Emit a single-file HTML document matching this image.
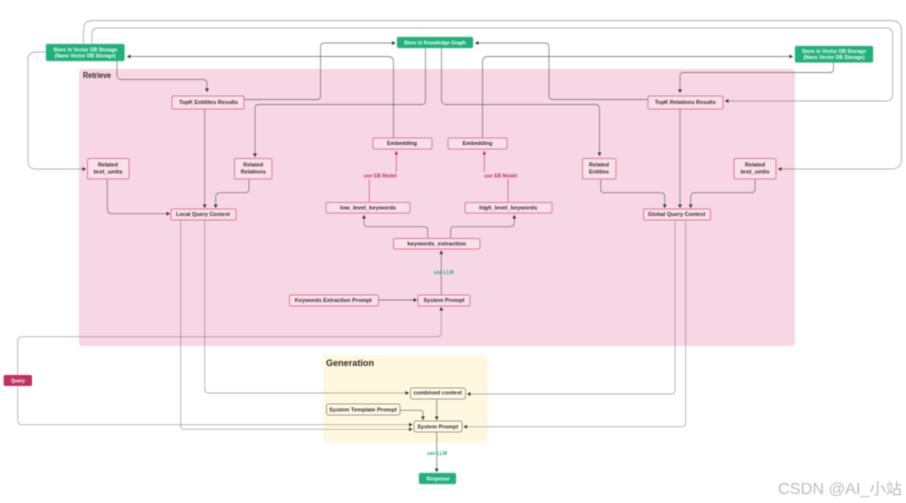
<!DOCTYPE html>
<html><head><meta charset="utf-8">
<style>
html,body{margin:0;padding:0;background:#fff;width:906px;height:503px;overflow:hidden}
svg{display:block;filter:blur(.5px)}
text{font-family:"Liberation Sans",sans-serif;font-size:5.8px;font-weight:bold;fill:#352b31;text-anchor:middle}
.g{fill:#f6fffb}
.l{fill:none;stroke:#4a4448;stroke-opacity:.42;stroke-width:.9}
.d{stroke-opacity:.62}
.p{fill:none;stroke:#d2567f;stroke-width:.8}
.n{fill:#fbdfe9;stroke:#dc7c9b;stroke-width:1}
.y{fill:#fff9e8;stroke:#a09c86;stroke-width:1}
.gr{fill:#23b07a;stroke:#5fcaa2;stroke-width:.5}
</style></head><body>
<svg width="906" height="503" viewBox="0 0 906 503" xmlns="http://www.w3.org/2000/svg">
<defs>
<marker id="a" markerUnits="userSpaceOnUse" markerWidth="4" markerHeight="4" refX="3.5" refY="2" orient="auto"><path d="M0,0L3.5,2L0,4Z" fill="#3d383b"/></marker>
<marker id="b" markerUnits="userSpaceOnUse" markerWidth="4" markerHeight="4" refX="3.5" refY="2" orient="auto"><path d="M0,0L3.5,2L0,4Z" fill="#c2315e"/></marker>
</defs>
<rect x="79" y="69" width="716" height="277" rx="4" fill="#f8d7e5"/>
<rect x="323" y="355" width="165" height="88" rx="4" fill="#fff8e0"/>
<text x="97" y="78" style="font-size:8px;fill:#2e262b" textLength="28" lengthAdjust="spacingAndGlyphs">Retrieve</text>
<text x="350" y="366" style="font-size:9.5px;fill:#2e2a20" textLength="48" lengthAdjust="spacingAndGlyphs">Generation</text>

<g marker-end="url(#a)">
<path class="l" d="M83.5,44V30Q83.5,20.5 93,20.5H891Q901.5,20.5 901.5,31V159Q901.5,169 891,169H778"/>
<path class="l" d="M92,44V34Q92,28 98,28H886Q892.5,28 892.5,34V95Q892.5,101 886,101H725"/>
<path class="l" d="M46,52H36Q28,52 28,60V161Q28,169 36,169H86"/>
<path class="l d" d="M393.5,138V62Q393.5,56.5 388,56.5H127"/>
<path class="l d" d="M482.5,138V62Q482.5,56.5 488,56.5H793"/>
<path class="l d" d="M117,61V75Q117,79.5 121,79.5H203Q207,79.5 207,84V92"/>
<path class="l d" d="M244,99.5H317Q320.5,99.5 320.5,96V47Q320.5,43 324,43H395.5"/>
<path class="l d" d="M425.5,48V101Q425.5,104.5 422,104.5H259Q255,104.5 255,108V157"/>
<path class="l d" d="M441.5,48V100Q441.5,104.5 446,104.5H595Q599.5,104.5 599.5,108V156"/>
<path class="l d" d="M648,99.5H553Q549,99.5 549,96V47Q549,43 545,43H475"/>
<path class="l d" d="M833.5,62.5V69Q833.5,72.5 830,72.5H684Q680,72.5 680,76V93"/>
<path class="l d" d="M680,109V208"/>
<path class="l d" d="M204.7,109V208"/>
<path class="l" d="M204.7,220V389Q204.7,393 209,393H409"/>
<path class="l" d="M180.7,220V425Q180.7,429.3 185,429.3H412.5"/>
<path class="l" d="M17.7,375V341Q17.7,336.7 22,336.7H437Q441.3,336.7 441.3,333V307"/>
<path class="l" d="M17.7,386V420Q17.7,424.7 22,424.7H412.5"/>
<path class="l" d="M675,220V390Q675,394 671,394H467"/>
<path class="l" d="M685.7,220V423Q685.7,426.7 682,426.7H463.5"/>
<path class="l d" d="M107.3,179V209Q107.3,213.7 112,213.7H170"/>
<path class="l d" d="M249,179V189Q249,192.7 245,192.7H220Q215.7,192.7 215.7,197V208"/>
<path class="l d" d="M600.7,179V189Q600.7,192.7 604,192.7H661Q664.7,192.7 664.7,197V208"/>
<path class="l d" d="M755,179V189Q755,192.7 751,192.7H695Q690.7,192.7 690.7,197V208"/>
<path class="l d" d="M427.7,238V230Q427.7,226.7 424,226.7H368Q364,226.7 364,223V215"/>
<path class="l d" d="M450.7,238V230Q450.7,226.7 454,226.7H510Q514.3,226.7 514.3,223V215"/>
<path class="l d" d="M441.3,295V250.5"/>
<path class="l d" d="M379,300H417"/>
<path class="l" style="stroke-width:1.4" d="M436.7,399V420"/>
<path class="l d" d="M400,410.3H420Q423,410.3 423,413V420"/>
<path class="l" style="stroke-width:1.4" d="M436.7,432V472"/>
</g>
<path class="p" d="M369.3,202V179"/>
<path class="p" d="M508,202V179"/>
<path class="p" d="M396.3,172V151" marker-end="url(#b)"/>
<path class="p" d="M484.3,172V151" marker-end="url(#b)"/>

<rect x="46" y="44" width="78.5" height="17" rx="1.5" class="gr"/>
<rect x="397" y="37" width="76" height="11" rx="1.5" class="gr"/>
<rect x="795" y="46" width="78" height="16.5" rx="1.5" class="gr"/>
<rect x="3.7" y="375" width="28.3" height="11" rx="1.5" fill="#c2315e"/>
<rect x="419" y="473" width="37" height="11" rx="1.5" class="gr"/>
<g class="n">
<rect x="172" y="96" width="72" height="13" rx="1.5"/>
<rect x="648" y="96" width="75" height="13" rx="1.5"/>
<rect x="87.5" y="158.5" width="41.5" height="20.5" rx="1.5"/>
<rect x="234.5" y="158.5" width="37.5" height="20.5" rx="1.5"/>
<rect x="582.5" y="158.5" width="33.5" height="20.5" rx="1.5"/>
<rect x="734" y="158.5" width="42" height="20.5" rx="1.5"/>
<rect x="171" y="209" width="65" height="11" rx="1.5"/>
<rect x="643.5" y="209" width="67" height="11" rx="1.5"/>
<rect x="373" y="138" width="59" height="11" rx="1.5"/>
<rect x="448" y="138" width="59" height="11" rx="1.5"/>
<rect x="326" y="202.5" width="84" height="10.5" rx="1.5"/>
<rect x="465" y="202.5" width="87" height="10.5" rx="1.5"/>
<rect x="393.5" y="238.5" width="86.5" height="10.5" rx="1.5"/>
<rect x="289.5" y="295" width="89" height="11" rx="1.5"/>
<rect x="418" y="295" width="52" height="11" rx="1.5"/>
</g>
<g class="y">
<rect x="410.5" y="388" width="55" height="11" rx="2"/>
<rect x="326.5" y="404" width="73.5" height="11" rx="2"/>
<rect x="414" y="421" width="48" height="11" rx="2"/>
</g>

<g>
<text class="g" x="85.3" y="51.5" textLength="63.7" lengthAdjust="spacingAndGlyphs">Store in Vector DB Storage</text>
<text class="g" x="85.3" y="57.5" textLength="61" lengthAdjust="spacingAndGlyphs">(Nano Vector DB Storage)</text>
<text class="g" x="434.8" y="44.7" textLength="61.7" lengthAdjust="spacingAndGlyphs">Store in Knowledge Graph</text>
<text class="g" x="834" y="53" textLength="64" lengthAdjust="spacingAndGlyphs">Store in Vector DB Storage</text>
<text class="g" x="834" y="59" textLength="61" lengthAdjust="spacingAndGlyphs">(Nano Vector DB Storage)</text>
<text x="208.5" y="104" textLength="59" lengthAdjust="spacingAndGlyphs">TopK Entitites Results</text>
<text x="685.3" y="104" textLength="61" lengthAdjust="spacingAndGlyphs">TopK Relations Results</text>
<text x="108" y="166.7" textLength="20" lengthAdjust="spacingAndGlyphs">Related</text>
<text x="108" y="173.3" textLength="29" lengthAdjust="spacingAndGlyphs">text_units</text>
<text x="253.3" y="166.7" textLength="20" lengthAdjust="spacingAndGlyphs">Related</text>
<text x="253.3" y="173.3" textLength="25" lengthAdjust="spacingAndGlyphs">Relations</text>
<text x="599" y="166.7" textLength="20" lengthAdjust="spacingAndGlyphs">Related</text>
<text x="599" y="173.3" textLength="20" lengthAdjust="spacingAndGlyphs">Entities</text>
<text x="755" y="166.7" textLength="20" lengthAdjust="spacingAndGlyphs">Related</text>
<text x="755" y="173.3" textLength="29" lengthAdjust="spacingAndGlyphs">text_units</text>
<text x="203" y="216" textLength="54" lengthAdjust="spacingAndGlyphs">Local Query Context</text>
<text x="676.7" y="216" textLength="57.7" lengthAdjust="spacingAndGlyphs">Global Query Context</text>
<text x="402" y="145" textLength="30" lengthAdjust="spacingAndGlyphs">Embedding</text>
<text x="477.5" y="145" textLength="30" lengthAdjust="spacingAndGlyphs">Embedding</text>
<text x="368" y="209.7" textLength="56" lengthAdjust="spacingAndGlyphs">low_level_keywords</text>
<text x="508.3" y="209.7" textLength="58" lengthAdjust="spacingAndGlyphs">high_level_keywords</text>
<text x="436.7" y="245.3" textLength="58.7" lengthAdjust="spacingAndGlyphs">keywords_extraction</text>
<text x="333.3" y="302" textLength="77" lengthAdjust="spacingAndGlyphs">Keywords Extraction Prompt</text>
<text x="444" y="302" textLength="41" lengthAdjust="spacingAndGlyphs">System Prompt</text>
<text class="g" x="18" y="382.3" textLength="14" lengthAdjust="spacingAndGlyphs">Query</text>
<text x="437.7" y="394.3" textLength="48.7" lengthAdjust="spacingAndGlyphs">combined context</text>
<text x="363" y="411.3" textLength="67.7" lengthAdjust="spacingAndGlyphs">System Template Prompt</text>
<text x="437.7" y="428.3" textLength="41" lengthAdjust="spacingAndGlyphs">System Prompt</text>
<text class="g" x="438" y="480.3" textLength="23" lengthAdjust="spacingAndGlyphs">Response</text>
<text style="fill:#20b27c" x="443.7" y="274" textLength="20" lengthAdjust="spacingAndGlyphs">use LLM</text>
<text style="fill:#20b27c" x="437" y="455" textLength="20" lengthAdjust="spacingAndGlyphs">use LLM</text>
<text style="fill:#c2315e" x="380.3" y="177.7" textLength="33" lengthAdjust="spacingAndGlyphs">use  EB Model</text>
<text style="fill:#c2315e" x="500.7" y="177.7" textLength="33" lengthAdjust="spacingAndGlyphs">use  EB Model</text>
<text x="840" y="494" style="font-family:'Liberation Sans','Noto Sans CJK SC',sans-serif;font-size:15.5px;font-weight:normal;fill:#bcbcbc" textLength="124" lengthAdjust="spacingAndGlyphs">CSDN @AI_小站</text>
</g>
</svg>
</body></html>
